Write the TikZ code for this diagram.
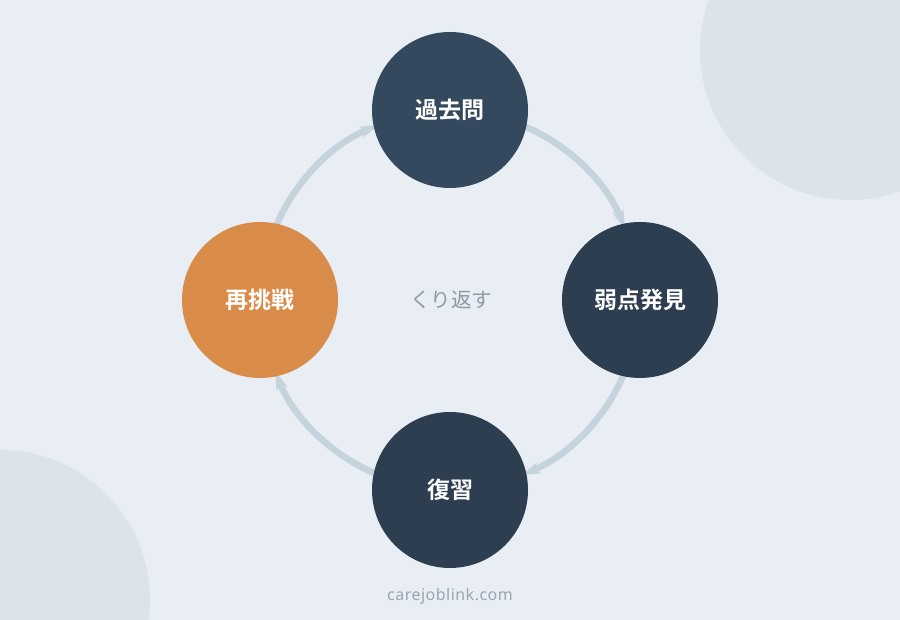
\documentclass[tikz,border=0pt]{standalone}
\usepackage{fontspec}
\newfontfamily\cjkb{Noto Sans CJK JP Bold}
\newfontfamily\cjk{Noto Sans CJK JP}
\newfontfamily\latin[LetterSpace=3]{Noto Sans}
\usetikzlibrary{arrows.meta,calc}
\definecolor{bg}{HTML}{E8EEF4}
\definecolor{deco}{HTML}{DCE3EA}
\definecolor{navyA}{HTML}{34495E}
\definecolor{navyB}{HTML}{2C3E50}
\definecolor{orng}{HTML}{D98C4A}
\definecolor{arcc}{HTML}{C5D3DD}
\definecolor{midtxt}{HTML}{8E9AA6}
\definecolor{foot}{HTML}{9AA6B2}
\tikzset{
  stepnode/.style={circle, minimum size=156pt, inner sep=0pt, text=white, font=\cjkb\fontsize{23}{26}\selectfont},
  cyclearc/.style={draw=arcc, line width=6.5pt, -{Stealth[length=20pt,width=11.5pt]}},
}
\begin{document}
\begin{tikzpicture}[x=1pt,y=1pt]
\fill[bg] (0,0) rectangle (900,620);
\useasboundingbox (0,0) rectangle (900,620);
\begin{scope}
\clip (0,0) rectangle (900,620);
\fill[deco] (850,570) circle[radius=150];
\fill[deco] (0,20) circle[radius=150];
\end{scope}
\coordinate (ctr) at (450,320);
\def\R{189}
\coordinate (a1s) at ($(ctr)+(68:\R)$);
\coordinate (a2s) at ($(ctr)+(-22:\R)$);
\coordinate (a3s) at ($(ctr)+(-112:\R)$);
\coordinate (a4s) at ($(ctr)+(158:\R)$);
\draw[cyclearc] (a1s) arc[start angle=68, end angle=22, radius=\R];
\draw[cyclearc] (a2s) arc[start angle=-22, end angle=-68, radius=\R];
\draw[cyclearc] (a3s) arc[start angle=-112, end angle=-158, radius=\R];
\draw[cyclearc] (a4s) arc[start angle=158, end angle=112, radius=\R];
\node[stepnode, fill=navyA] (top) at (450,510) {過去問};
\node[stepnode, fill=navyB] (right) at (640,320) {弱点発見};
\node[stepnode, fill=navyB] (bottom) at (450,130) {復習};
\node[stepnode, fill=orng] (left) at (260,320) {再挑戦};
\node[text=midtxt, font=\cjk\fontsize{20.5}{24}\selectfont] (mid) at (451,320) {くり返す};
\node[text=foot, font=\latin\fontsize{16}{19}\selectfont] (credit) at (450,24) {carejoblink.com};
\end{tikzpicture}
\end{document}
